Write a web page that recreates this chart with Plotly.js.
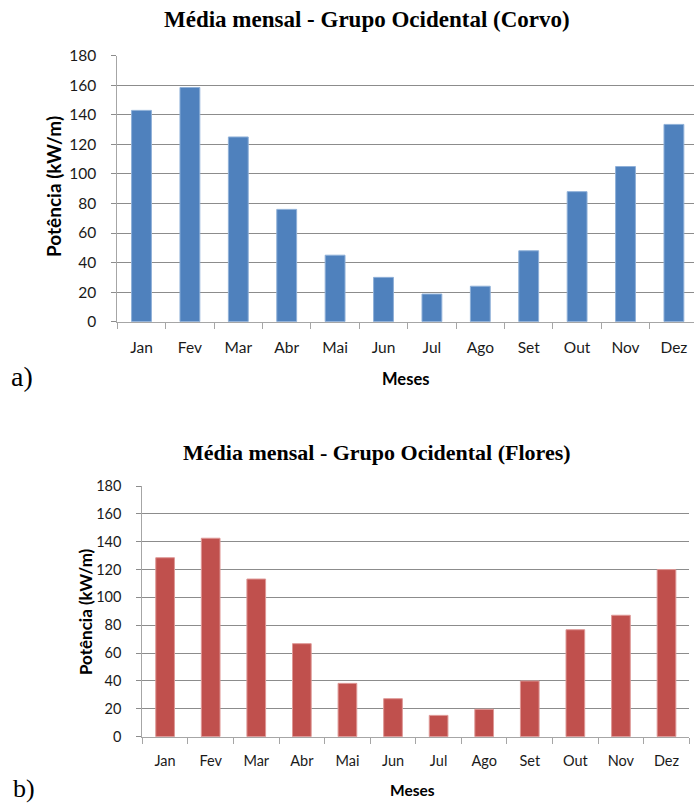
<!DOCTYPE html>
<html>
<head>
<meta charset="utf-8">
<script src="https://cdn.plot.ly/plotly-3.0.1.min.js"></script>
<style>html,body{margin:0;padding:0;background:#fff;}#chart{width:694px;height:805px;}</style>
</head>
<body>
<div id="chart"></div>
<script>
const months = ["Jan","Fev","Mar","Abr","Mai","Jun","Jul","Ago","Set","Out","Nov","Dez"];
const corvo = [143, 158.5, 125, 76, 45, 30, 18.7, 24, 48, 88, 105, 133.5];
const flores = [128.5, 142.5, 113.2, 66.8, 38.3, 27.3, 15.3, 19.7, 40, 76.8, 87.2, 120];
const titleA = "Média mensal - Grupo Ocidental (Corvo)";
const titleB = "Média mensal - Grupo Ocidental (Flores)";
const yTitle = "Potência (kW/m)";
const xTitle = "Meses";
const yTicks = [0,20,40,60,80,100,120,140,160,180];

const W = 694, H = 805;
const px = v => v / W;
const py = v => 1 - v / H;

const traces = [
  {type:"bar", x:months, y:corvo, xaxis:"x", yaxis:"y",
   marker:{color:"#4f81bd", line:{color:"#8fb0d8", width:1}}, hoverinfo:"x+y"},
  {type:"bar", x:months, y:flores, xaxis:"x2", yaxis:"y2",
   marker:{color:"#c0504d", line:{color:"#de9896", width:1}}, hoverinfo:"x+y"}
];

const tickFontA = {family:"Lato, 'Open Sans', sans-serif", size:15.5, color:"#1a1a1a"};
const tickFontB = {family:"Lato, 'Open Sans', sans-serif", size:14.5, color:"#1a1a1a"};

function xax(domain, font, range, standoff){
  return {domain:domain, type:"category", range:range, showgrid:false,
    showline:true, linecolor:"#a6a6a6", linewidth:1,
    ticks:"outside", tickson:"boundaries", ticklen:6, tickcolor:"#a6a6a6",
    tickfont:font, ticklabelstandoff:standoff, zeroline:false, fixedrange:true};
}
function yax(domain, font, anchor){
  return {domain:domain, range:[0,180], tickvals:yTicks, showgrid:true,
    gridcolor:"#8c8c8c", gridwidth:1, showline:true, linecolor:"#a6a6a6",
    ticks:"outside", ticklen:5, tickcolor:"#8c8c8c", tickfont:font,
    ticklabelstandoff:12, zeroline:false, anchor:anchor, fixedrange:true};
}

const layout = {
  width:W, height:H, margin:{l:0,r:0,t:0,b:0}, showlegend:false,
  paper_bgcolor:"#ffffff", plot_bgcolor:"#ffffff", bargap:0.59,
  xaxis: xax([px(117.3), 1], tickFontA, [-0.5, 11.415], 12),
  yaxis: yax([py(321.7), py(55.7)], tickFontA, "x"),
  xaxis2: Object.assign(xax([px(142.3), px(689.3)], tickFontB, [-0.5, 11.5], 11), {anchor:"y2"}),
  yaxis2: yax([py(736.7), py(486)], tickFontB, "x2"),
  annotations:[
    {text:"<b>"+titleA+"</b>", x:px(367), y:py(19), xref:"paper", yref:"paper",
     showarrow:false, xanchor:"center", yanchor:"middle",
     font:{family:"'Liberation Serif', 'Times New Roman', serif", size:23, color:"#000"}},
    {text:"<b>"+titleB+"</b>", x:px(377), y:py(452), xref:"paper", yref:"paper",
     showarrow:false, xanchor:"center", yanchor:"middle",
     font:{family:"'Liberation Serif', 'Times New Roman', serif", size:22, color:"#000"}},
    {text:"<b>"+yTitle+"</b>", x:px(53), y:py(186), xref:"paper", yref:"paper",
     showarrow:false, textangle:-90, xanchor:"center", yanchor:"middle",
     font:{family:"Lato, 'Open Sans', sans-serif", size:19, color:"#000"}},
    {text:"<b>"+yTitle+"</b>", x:px(85), y:py(612), xref:"paper", yref:"paper",
     showarrow:false, textangle:-90, xanchor:"center", yanchor:"middle",
     font:{family:"Lato, 'Open Sans', sans-serif", size:17, color:"#000"}},
    {text:"<b>"+xTitle+"</b>", x:px(405), y:py(379), xref:"paper", yref:"paper",
     showarrow:false, xanchor:"center", yanchor:"middle",
     font:{family:"Lato, 'Open Sans', sans-serif", size:16.5, color:"#000"}},
    {text:"<b>"+xTitle+"</b>", x:px(412), y:py(790), xref:"paper", yref:"paper",
     showarrow:false, xanchor:"center", yanchor:"middle",
     font:{family:"Lato, 'Open Sans', sans-serif", size:15.5, color:"#000"}},
    {text:"a)", x:px(22), y:py(377), xref:"paper", yref:"paper",
     showarrow:false, xanchor:"center", yanchor:"middle",
     font:{family:"'Liberation Serif', 'Times New Roman', serif", size:28, color:"#000"}},
    {text:"b)", x:px(24), y:py(788), xref:"paper", yref:"paper",
     showarrow:false, xanchor:"center", yanchor:"middle",
     font:{family:"'Liberation Serif', 'Times New Roman', serif", size:26, color:"#000"}}
  ]
};

Plotly.newPlot("chart", traces, layout, {displayModeBar:false, staticPlot:true});
</script>
</body>
</html>
